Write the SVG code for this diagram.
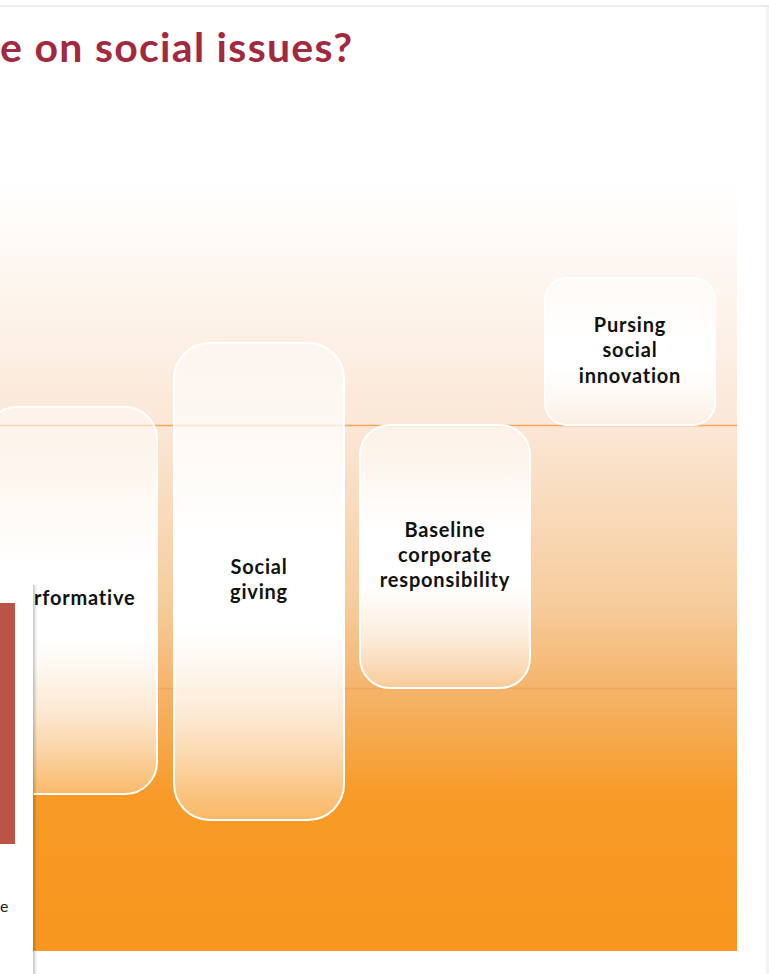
<svg xmlns="http://www.w3.org/2000/svg" width="769" height="974" viewBox="0 0 769 974">
  <defs>
    <!-- vertical wash behind the stages: white fading to peach, then to full orange -->
    <linearGradient id="bandFill" x1="0" y1="180" x2="0" y2="951" gradientUnits="userSpaceOnUse">
      <stop offset="0" stop-color="#ffffff"/>
      <stop offset="0.16" stop-color="#fdf4ec"/>
      <stop offset="0.32" stop-color="#fbe7d6"/>
      <stop offset="0.55" stop-color="#f6cc9c"/>
      <stop offset="0.66" stop-color="#f5b46b"/>
      <stop offset="0.80" stop-color="#f79a27"/>
      <stop offset="1" stop-color="#f8971f"/>
    </linearGradient>
    <!-- stage cards: translucent at the ends, opaque white in the middle -->
    <linearGradient id="cardFill" x1="0" y1="0" x2="0" y2="1">
      <stop offset="0" stop-color="#ffffff" stop-opacity="0.45"/>
      <stop offset="0.25" stop-color="#ffffff" stop-opacity="0.85"/>
      <stop offset="0.4" stop-color="#ffffff" stop-opacity="1"/>
      <stop offset="0.6" stop-color="#ffffff" stop-opacity="1"/>
      <stop offset="0.8" stop-color="#ffffff" stop-opacity="0.7"/>
      <stop offset="1" stop-color="#ffffff" stop-opacity="0.3"/>
    </linearGradient>
    <linearGradient id="panelShadow" x1="0" y1="0" x2="1" y2="0">
      <stop offset="0" stop-color="#000000" stop-opacity="0.22"/>
      <stop offset="1" stop-color="#000000" stop-opacity="0"/>
    </linearGradient>
  </defs>
  <style>
    .title { font-family: "Lato", "Liberation Sans", sans-serif; font-weight: 700; font-size: 41px; fill: #a3293f; }
    .card { fill: url(#cardFill); stroke: #ffffff; stroke-width: 2; }
    .label { font-family: "Lato", "Liberation Sans", sans-serif; font-weight: 700; font-size: 20px; letter-spacing: 0.8px; fill: #111111; text-anchor: middle; }
    .band-line { stroke: #f5a45a; stroke-width: 1.5; }
  </style>

  <rect x="0" y="0" width="769" height="974" fill="#ffffff"/>
  <!-- page edges -->
  <rect x="0" y="5" width="769" height="2" fill="#ececec"/>
  <rect x="766" y="7" width="3" height="967" fill="#f3f3f3"/>

  <text class="title" x="0" y="62" textLength="352" lengthAdjust="spacing">e on social issues?</text>

  <!-- background bands -->
  <g id="bands">
    <rect x="0" y="180" width="737" height="771" fill="url(#bandFill)"/>
    <line class="band-line" x1="0" y1="425.5" x2="737" y2="425.5"/>
    <line class="band-line" x1="0" y1="688.5" x2="737" y2="688.5"/>
  </g>

  <g id="connectors"/>

  <g id="node-performative">
    <rect class="card" x="-15" y="407" width="172" height="387" rx="32"/>
    <text class="label" x="34" y="605" style="text-anchor:start">rformative</text>
  </g>

  <g id="node-social-giving">
    <rect class="card" x="174" y="343" width="170" height="477" rx="36"/>
    <text class="label" x="259" y="574">Social</text>
    <text class="label" x="259" y="599">giving</text>
  </g>

  <g id="node-baseline">
    <rect class="card" x="360" y="425" width="170" height="263" rx="30"/>
    <text class="label" x="445" y="537">Baseline</text>
    <text class="label" x="445" y="562">corporate</text>
    <text class="label" x="445" y="587">responsibility</text>
  </g>

  <g id="node-social-innovation">
    <rect class="card" x="545" y="278" width="170" height="147" rx="22"/>
    <text class="label" x="630" y="332">Pursing</text>
    <text class="label" x="630" y="357">social</text>
    <text class="label" x="630" y="383">innovation</text>
  </g>

  <!-- side panel overlapping the left edge -->
  <g id="side-panel">
    <rect x="33" y="585" width="4" height="389" fill="url(#panelShadow)"/>
    <rect x="0" y="585" width="33" height="389" fill="#ffffff"/>
    <rect x="0" y="603" width="15" height="241" fill="#b95446"/>
    <text x="0" y="912" style="font-family:'Lato','Liberation Sans',sans-serif;font-size:16px;fill:#222222">e</text>
  </g>
</svg>
